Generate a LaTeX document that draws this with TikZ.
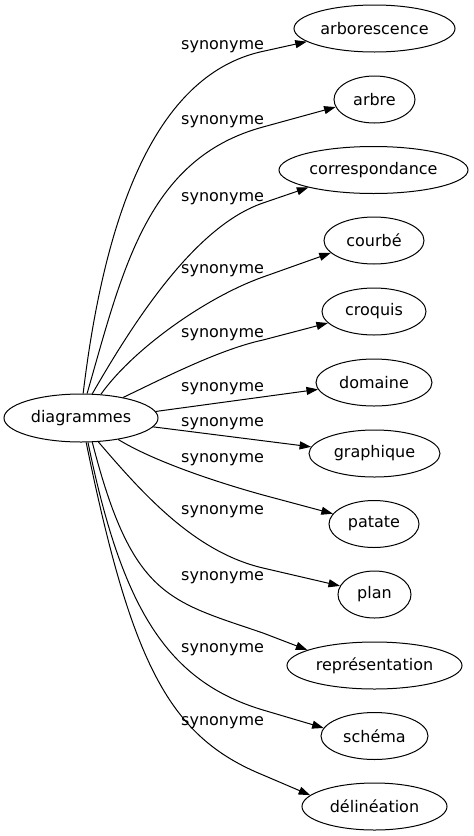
\documentclass[tikz,border=0pt]{standalone}
\usepackage{fontspec}
\setmainfont{DejaVu Sans}
\usetikzlibrary{shapes.geometric,arrows.meta}
\begin{document}
\begin{tikzpicture}[x=1pt,y=-1pt,
  word/.style={ellipse,draw,line width=1pt,inner sep=0pt,minimum height=47pt,font=\fontsize{16}{19}\selectfont},
  lbl/.style={inner sep=0pt,anchor=west,font=\fontsize{16}{19}\selectfont},
  edge/.style={line width=1pt,-{Triangle[length=11.5pt,width=8pt]}}]
\useasboundingbox (0,0) rectangle (474,836);
\node[word,minimum width=154pt,minimum height=48pt] (d) at (81,418) {diagrammes};
\node[word,minimum width=161pt] (n1) at (374.5,28.5) {arborescence};
\node[word,minimum width=81pt] (n2) at (374.5,99.5) {arbre};
\node[word,minimum width=189pt] (n3) at (373.5,170) {correspondance};
\node[word,minimum width=100pt] (n4) at (374,240.5) {courbé};
\node[word,minimum width=104pt] (n5) at (374,311.5) {croquis};
\node[word,minimum width=116pt] (n6) at (374,382.5) {domaine};
\node[word,minimum width=131pt] (n7) at (374.5,453.5) {graphique};
\node[word,minimum width=90pt] (n8) at (374,524) {patate};
\node[word,minimum width=73pt] (n9) at (374.5,594.5) {plan};
\node[word,minimum width=175pt] (n10) at (374.5,665.5) {représentation};
\node[word,minimum width=107pt] (n11) at (374.5,736) {schéma};
\node[word,minimum width=145pt] (n12) at (374.5,806.5) {délinéation};
\node[lbl] (l1) at (181,47) {synonyme};
\node[lbl] (l2) at (181,121.5) {synonyme};
\node[lbl] (l3) at (181,198.5) {synonyme};
\node[lbl] (l4) at (181,271) {synonyme};
\node[lbl] (l5) at (181,335) {synonyme};
\node[lbl] (l6) at (181,388.5) {synonyme};
\node[lbl] (l7) at (181,423.5) {synonyme};
\node[lbl] (l8) at (181,460) {synonyme};
\node[lbl] (l9) at (181,511.5) {synonyme};
\node[lbl] (l10) at (181,577.5) {synonyme};
\node[lbl] (l11) at (181,649.5) {synonyme};
\node[lbl] (l12) at (181,722.5) {synonyme};
\draw[edge] (d.85) .. controls (107,195) and (163,75) .. (260,52) -- (n1.191);
\draw[edge] (d.76) .. controls (122.8,269.2) and (147.2,158.4) .. (263,127) -- (n2.191.6);
\draw[edge] (d.65) .. controls (137,316) and (196.8,225.6) .. (263,203) -- (n3.195);
\draw[edge] (d.50) .. controls (133,349) and (206.5,297) .. (263,277) -- (n4.196);
\draw[edge] (d.26) .. controls (163,378.4) and (219.2,349.5) .. (263,340) -- (n5.194);
\draw[edge] (d.5) -- (n6.187.5);
\draw[edge] (d.-7.5) -- (n7.174);
\draw[edge] (d.-30.5) .. controls (155,462) and (219.6,483) .. (263,495) -- (n8.166.6);
\draw[edge] (d.-54) .. controls (143.5,494.6) and (194.8,552) .. (263,568) -- (n9.166);
\draw[edge] (d.-65) .. controls (132,597) and (168.4,600.7) .. (263,633) -- (n10.167);
\draw[edge] (d.-74) .. controls (122,608.6) and (167.2,681.3) .. (263,710) -- (n11.171);
\draw[edge] (d.-78) .. controls (132,667) and (170.4,737) .. (263,775) -- (n12.170);
\end{tikzpicture}
\end{document}
